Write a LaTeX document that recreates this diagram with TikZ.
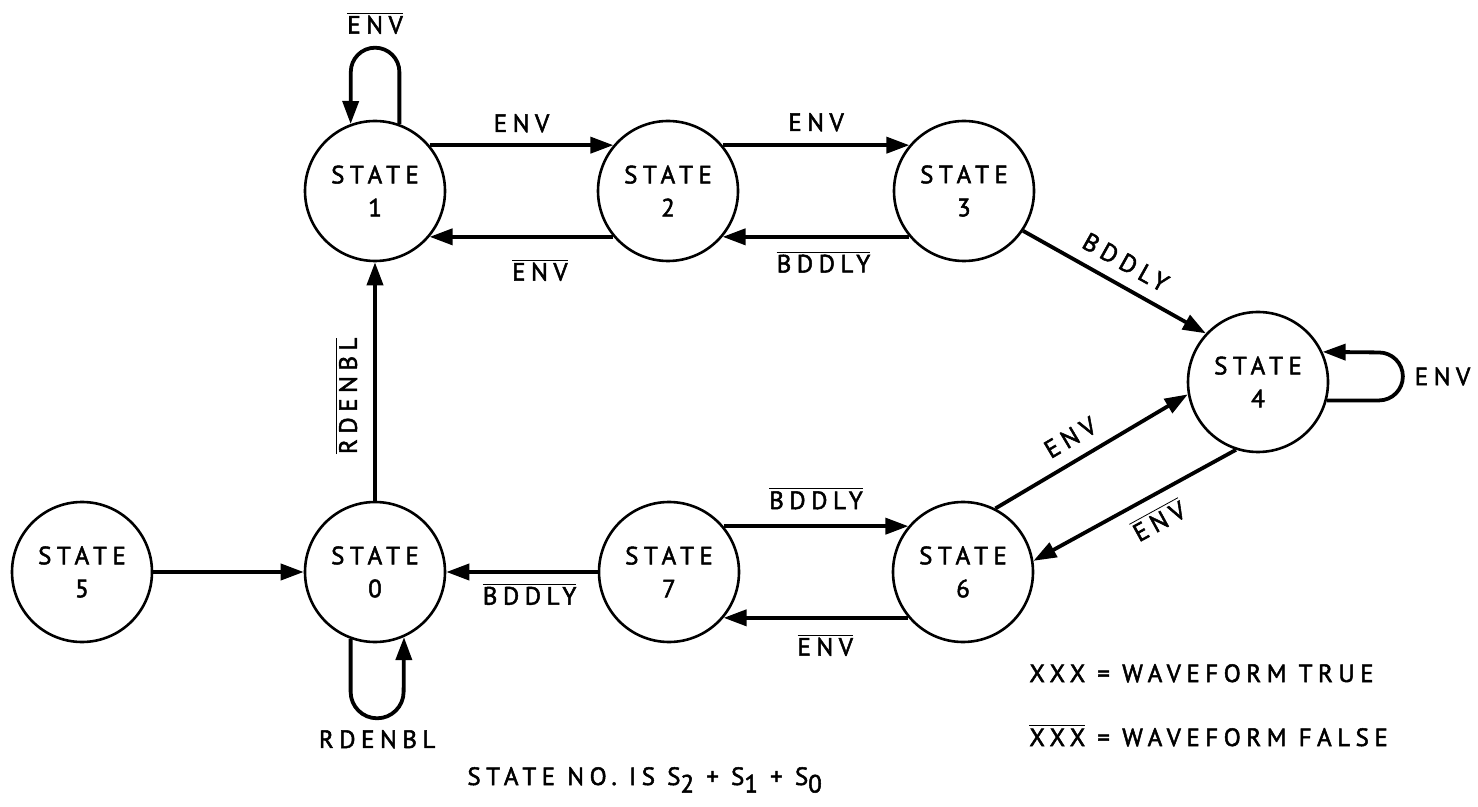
\documentclass[tikz,border=0pt]{standalone}
\usepackage{fontspec}
\setmainfont{PT Sans}
\newfontfamily\lblfont[LetterSpace=22,FakeBold=2]{PT Sans}
\usetikzlibrary{arrows.meta,positioning}

\newcommand{\notsig}[1]{$\overline{\mbox{#1}}$}
\newcommand{\lowdigit}[1]{\raisebox{-0.6ex}{#1}}

\tikzset{
  state/.style={circle, draw, line width=1.3pt, minimum size=70pt, inner sep=0pt,
    align=center, font=\lblfont\fontsize{12.5}{16.5}\selectfont},
  trans/.style={line width=1.9pt, -{Triangle[length=11.5pt,width=8pt]}},
  lbl/.style={font=\lblfont\fontsize{12.5}{15}\selectfont, inner sep=2pt},
}

\begin{document}
\begin{tikzpicture}[on grid]
\useasboundingbox (0,0) rectangle (739pt,-403.5pt);
% states
\node[state] (s1) at (187.5pt,-95.5pt) {STATE\\1};
\node[state, right=146.5pt of s1] (s2) {STATE\\2};
\node[state, right=148pt of s2] (s3) {STATE\\3};
\node[state, below right=95.5pt and 147pt of s3] (s4) {STATE\\4};
\node[state, below=190.5pt of s1] (s0) {STATE\\0};
\node[state, left=146.5pt of s0] (s5) {STATE\\5};
\node[state, right=147pt of s0] (s7) {STATE\\7};
\node[state, right=147pt of s7] (s6) {STATE\\6};

% top row
\draw[trans] (s1.40) -- node[lbl, above=3.5pt] {ENV} (s2.140);
\draw[trans] (s2.220) -- node[lbl, below=8pt, pos=0.4] {\notsig{ENV}} (s1.320);
\draw[trans] (s2.40) -- node[lbl, above=4pt] {ENV} (s3.140);
\draw[trans] (s3.220) -- node[lbl, below=4pt, pos=0.46] {\notsig{BDDLY}} (s2.320);
\draw[trans] (s3.-34) -- node[lbl, sloped, above=4pt] {BDDLY} (s4.137);

% right side
\draw[trans] (s6.63) -- node[lbl, sloped, above=4pt, pos=0.45] {ENV} (s4.190);
\draw[trans] (s4.252) -- node[lbl, sloped, below=3.5pt, pos=0.44] {\notsig{ENV}} (s6.9);

% bottom row
\draw[trans] (s7.40) -- node[lbl, above=5.5pt] {\notsig{BDDLY}} (s6.140);
\draw[trans] (s6.220) -- node[lbl, below=5pt, pos=0.45] {\notsig{ENV}} (s7.320);
\draw[trans] (s7) -- node[lbl, below=2.5pt, pos=0.45] {\notsig{BDDLY}} (s0);
\draw[trans] (s5) -- (s0);
\draw[trans] (s0) -- node[lbl, sloped, above=6pt, pos=0.44] {\notsig{RDENBL}} (s1);

% self loops
\draw[trans] (s1.70) -- ++(0,26pt) arc[start angle=0, end angle=90, radius=12.15pt]
  node[lbl, above=4pt] {\notsig{ENV}}
  arc[start angle=90, end angle=180, radius=12.15pt] -- (s1.110);
\draw[trans] (s4.-15) -- ++(26pt,0) arc[start angle=-90, end angle=0, radius=12pt]
  node[lbl, right=3pt] {ENV}
  arc[start angle=0, end angle=90, radius=12pt] -- (s4.25);
\draw[trans] (s0.-110) -- ++(0,-26.4pt) arc[start angle=180, end angle=270, radius=13.25pt]
  node[lbl, below=3pt] {RDENBL}
  arc[start angle=270, end angle=360, radius=13.25pt] -- (s0.-66);

% notes
\node[lbl, anchor=base west] (stno) at (231.5pt,-392.5pt)
  {STATE NO. IS S\lowdigit{2} + S\lowdigit{1} + S\lowdigit{0}};
\node[lbl, anchor=base west] (ltrue) at (512.5pt,-341pt) {XXX = WAVEFORM TRUE};
\node[lbl, anchor=base west] (lfalse) at (512.5pt,-373pt) {\notsig{XXX} = WAVEFORM FALSE};
\end{tikzpicture}
\end{document}
